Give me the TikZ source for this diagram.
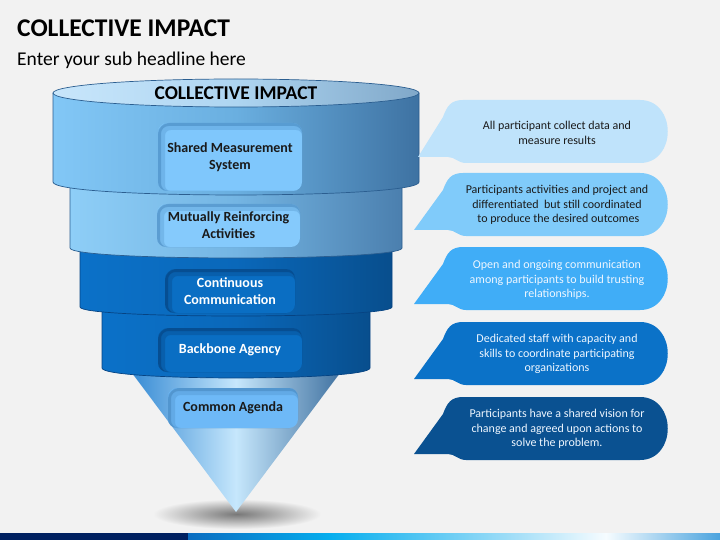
\documentclass[tikz,border=0pt]{standalone}
\usepackage{fontspec}
\setmainfont{Carlito}
\definecolor{bg}{HTML}{F2F2F2}
\definecolor{shadowC}{HTML}{787878}
\definecolor{shadowM}{HTML}{A8A8A8}
\definecolor{tOneL}{HTML}{82C7F6}
\definecolor{tOneM}{HTML}{6AAFE0}
\definecolor{tOneR}{HTML}{3E72A2}
\definecolor{topL}{HTML}{C8E6FB}
\definecolor{topM}{HTML}{AED5F1}
\definecolor{topR}{HTML}{80A8C9}
\definecolor{tTwoL}{HTML}{8ECEF7}
\definecolor{tTwoM}{HTML}{74B5E3}
\definecolor{tTwoR}{HTML}{4B7FAE}
\definecolor{tThrL}{HTML}{0B71C8}
\definecolor{tThrM}{HTML}{0A68BA}
\definecolor{tThrR}{HTML}{084E8D}
\definecolor{coneL}{HTML}{2F86D2}
\definecolor{coneM}{HTML}{C6E7FC}
\definecolor{coneR}{HTML}{3A6C9C}
\definecolor{edgeLight}{HTML}{2B5E90}
\definecolor{edgeDark}{HTML}{064382}
\definecolor{boxLight}{HTML}{7FC7FC}
\definecolor{boxDark}{HTML}{0A6EC3}
\definecolor{boxAgenda}{HTML}{6EB9F7}
\definecolor{shLight}{HTML}{3F7FB5}
\definecolor{shDark}{HTML}{053F7A}
\definecolor{cOne}{HTML}{BFE3FB}
\definecolor{cTwo}{HTML}{80CBFA}
\definecolor{cThr}{HTML}{40ADF7}
\definecolor{cFou}{HTML}{0B72C8}
\definecolor{cFiv}{HTML}{0A5191}
\definecolor{txtDark}{HTML}{1A1A1A}
\definecolor{txtLight}{HTML}{EEF6FF}
\definecolor{navy}{HTML}{002060}
\definecolor{barA}{HTML}{0A6CC0}
\definecolor{barB}{HTML}{06AEEE}
\definecolor{barC}{HTML}{A8E0F8}
\definecolor{barD}{HTML}{F6FCFF}
\definecolor{barE}{HTML}{4AA3DE}
\pgfdeclareradialshading{tipshadow}{\pgfpoint{0bp}{0bp}}{color(0bp)=(shadowC); color(10bp)=(shadowM); color(25bp)=(bg); color(50bp)=(bg)}
\tikzset{
  edgeline/.style={draw=edgeLight, line width=0.7pt},
  edgedark/.style={draw=edgeDark, line width=0.7pt},
  lblbase/.style={rounded corners=9pt, align=center, inner sep=0pt,
    font=\bfseries\fontsize{14}{17}\selectfont},
  lbllight/.style={lblbase, fill=boxLight, text=txtDark,
    path picture={
      \draw[line width=7pt, draw=shLight, opacity=0.25, rounded corners=9pt]
        ([shift={(3.5pt,-3.5pt)}]path picture bounding box.north west) rectangle
        ([shift={(3.5pt,-3.5pt)}]path picture bounding box.south east);
      \draw[line width=3pt, draw=shLight, opacity=0.45, rounded corners=9pt]
        ([shift={(1.5pt,-1.5pt)}]path picture bounding box.north west) rectangle
        ([shift={(1.5pt,-1.5pt)}]path picture bounding box.south east);}},
  lbldark/.style={lblbase, fill=boxDark, text=white,
    path picture={
      \draw[line width=7pt, draw=shDark, opacity=0.3, rounded corners=9pt]
        ([shift={(3.5pt,-3.5pt)}]path picture bounding box.north west) rectangle
        ([shift={(3.5pt,-3.5pt)}]path picture bounding box.south east);
      \draw[line width=3pt, draw=shDark, opacity=0.5, rounded corners=9pt]
        ([shift={(1.5pt,-1.5pt)}]path picture bounding box.north west) rectangle
        ([shift={(1.5pt,-1.5pt)}]path picture bounding box.south east);}},
  ctext/.style={align=center, inner sep=0pt, font=\fontsize{12}{14.7}\selectfont},
}
% callout bubble: #1 top y, #2 tip x, #3 colour
\newcommand{\bubble}[3]{%
  \fill[#3] (#2,#1+57) -- (443,#1+17)
    .. controls (447,#1+6) and (451,#1) .. (463,#1) -- (640,#1)
    .. controls (677,#1) and (677,#1+63) .. (640,#1+63) -- (466,#1+63)
    .. controls (458,#1+63) and (455,#1+57) .. (448,#1+57) -- cycle;}
\begin{document}
\begin{tikzpicture}[x=1pt,y=-1pt]
\useasboundingbox (0,0) rectangle (720,540);
\fill[bg] (0,0) rectangle (720,540);

% titles
\node[anchor=base west, inner sep=0pt, font=\bfseries\fontsize{25.5}{30}\selectfont] (title) at (17,37) {COLLECTIVE IMPACT};
\node[anchor=base west, inner sep=0pt, font=\fontsize{19.5}{24}\selectfont] (sub) at (17,66) {Enter your sub headline here};

% shadow of the funnel tip
\shade[shading=tipshadow] (237,514) ellipse [x radius=84, y radius=15];

% cone
\shade[left color=coneL, right color=coneR, middle color=coneM] (126,365) -- (346,365) -- (236,512) -- cycle;

% tier 4
\shade[left color=tThrL, right color=tThrR, middle color=tThrM]
  (102,300) -- (102,368) .. controls (102,381.3) and (370,381.3) .. (370,368) -- (370,300) -- cycle;
\draw[edgedark] (102,300) -- (102,368) .. controls (102,381.3) and (370,381.3) .. (370,368) -- (370,300);

% tier 3
\shade[left color=tThrL, right color=tThrR, middle color=tThrM]
  (80,240) -- (80,307) .. controls (80,319) and (392,319) .. (392,307) -- (392,240) -- cycle;
\draw[edgedark] (80,240) -- (80,307) .. controls (80,319) and (392,319) .. (392,307) -- (392,240);

% tier 2
\shade[left color=tTwoL, right color=tTwoR, middle color=tTwoM]
  (70,175) -- (70,248) .. controls (70,261.3) and (402,261.3) .. (402,248) -- (402,175) -- cycle;
\draw[edgeline] (70,175) -- (70,248) .. controls (70,261.3) and (402,261.3) .. (402,248) -- (402,175);

% tier 1
\shade[left color=tOneL, right color=tOneR, middle color=tOneM]
  (53,93) -- (53,182) .. controls (53,199.3) and (419,199.3) .. (419,182) -- (419,93) -- cycle;
\draw[edgeline] (53,93) -- (53,182) .. controls (53,199.3) and (419,199.3) .. (419,182) -- (419,93);
\shade[left color=topL, right color=topR, middle color=topM] (236,93) ellipse [x radius=183, y radius=14];
\draw[edgeline] (236,93) ellipse [x radius=183, y radius=14];
\node[font=\bfseries\fontsize{19.5}{23}\selectfont, inner sep=0pt, anchor=base] (toptitle) at (236,99.5) {COLLECTIVE IMPACT};

% labels on the funnel
\node[lbllight, minimum width=144pt, minimum height=68pt] (shared) at (230,157) {Shared Measurement\\System};
\node[lbllight, fill=boxLight!95!white, minimum width=143pt, minimum height=43pt] (mutual) at (228.5,225.5) {Mutually Reinforcing\\Activities};
\node[lbldark, minimum width=130pt, minimum height=44pt] (contin) at (230,291) {Continuous\\Communication};
\node[lbldark, minimum width=144pt, minimum height=44pt] (backbone) at (230,350) {Backbone Agency};
\node[lbllight, fill=boxAgenda, minimum width=130pt, minimum height=40pt] (agenda) at (233,408) {Common Agenda};

% callouts
\bubble{100}{418}{cOne}
\bubble{173}{414}{cTwo}
\bubble{247}{414}{cThr}
\bubble{322}{414}{cFou}
\bubble{397}{414}{cFiv}
\node[ctext, text=txtDark] (ctOne) at (557,133) {All participant collect data and\\measure results};
\node[ctext, text=txtDark] (ctTwo) at (557,205) {Participants activities and project and\\differentiated\ \ but still coordinated\\\ to produce the desired outcomes};
\node[ctext, text=txtLight] (ctThr) at (557,280) {Open and ongoing communication\\among participants to build trusting\\relationships.};
\node[ctext, text=txtLight] (ctFou) at (557,354) {Dedicated staff with capacity and\\skills to coordinate participating\\organizations};
\node[ctext, text=txtLight] (ctFiv) at (557,429) {Participants have a shared vision for\\change and agreed upon actions to\\solve the problem.};

% bottom bar
\fill[navy] (0,533) rectangle (188,540);
\shade[left color=barA, right color=barB] (188,533) rectangle (330,540);
\shade[left color=barB, right color=barC] (330,533) rectangle (520,540);
\shade[left color=barC, right color=barD] (520,533) rectangle (606,540);
\shade[left color=barD, right color=barE] (606,533) rectangle (720,540);
\end{tikzpicture}
\end{document}
